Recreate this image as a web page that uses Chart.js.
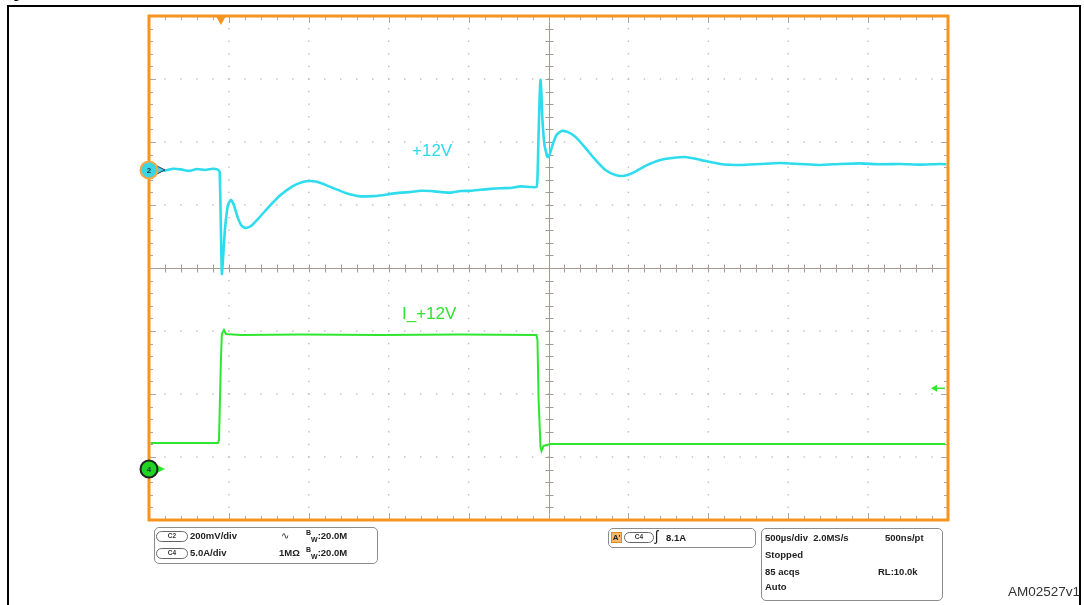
<!DOCTYPE html>
<html>
<head>
<meta charset="utf-8">
<script src="https://cdn.jsdelivr.net/npm/chart.js@4.4.1/dist/chart.umd.min.js"></script>
<style>
  html, body { margin: 0; padding: 0; background: #fff; overflow: hidden; }
  #wrap { position: absolute; left: 0; top: 0; width: 1084px; height: 605px; overflow: hidden; }
  #frame { position: absolute; left: 7px; top: 5px; width: 1070px; height: 700px; border: 2px solid #000; }
  .txt { position: absolute; font-family: "Liberation Sans", Arial, sans-serif; white-space: nowrap; }
  .lbl { font-size: 17px; line-height: 17px; }
  .box { position: absolute; border: 1.5px solid #8c8c8c; border-radius: 5px; box-sizing: border-box; }
  .info { font-size: 9.5px; line-height: 11px; font-weight: bold; color: #222; }
  .pill { position: absolute; border: 1px solid #666; border-radius: 6px; box-sizing: border-box;
          font-family: "Liberation Sans", Arial, sans-serif; font-size: 6.5px; line-height: 8px;
          text-align: center; color: #333; font-weight: bold; }
  sup, sub { font-size: 7px; line-height: 0; }
  #chartBox { position: absolute; left: 0; top: 0; width: 1084px; height: 605px; }
</style>
</head>
<body>
<div id="wrap">
  <div id="chartBox"><canvas id="scope"></canvas></div>
  <div id="frame"></div>
  <div class="txt" style="left:1px; top:-13px; font-size:13px; line-height:13px; font-weight:bold; color:#000;">Figure</div>

  <div class="txt lbl" style="left:412px; top:142px; color:#2fd8ea;">+12V</div>
  <div class="txt lbl" style="left:402px; top:305px; color:#33e033;">I_+12V</div>

  <!-- channel settings -->
  <div class="box" style="left:154px; top:527px; width:224px; height:37px;"></div>
  <div class="pill" style="left:156px; top:531px; width:32px; height:11px;">C2</div>
  <div class="txt info" style="left:190px; top:530px;">200mV/div</div>
  <div class="txt info" style="left:281px; top:530px; font-weight:normal;">∿</div>
  <div class="txt info" style="left:306px; top:530px;"><sup>B</sup><sub>W</sub>:20.0M</div>
  <div class="pill" style="left:156px; top:548px; width:32px; height:11px;">C4</div>
  <div class="txt info" style="left:190px; top:547px;">5.0A/div</div>
  <div class="txt info" style="left:279px; top:547px;">1MΩ</div>
  <div class="txt info" style="left:306px; top:547px;"><sup>B</sup><sub>W</sub>:20.0M</div>

  <!-- trigger settings -->
  <div class="box" style="left:608px; top:528px; width:148px; height:20px;"></div>
  <div class="txt info" style="left:611px; top:532px; width:11px; height:11px; background:#f7b86a; border:1px solid #e08a20; box-sizing:border-box; font-size:8px; line-height:9px; text-align:center;">A'</div>
  <div class="pill" style="left:624px; top:532px; width:30px; height:11px;">C4</div>
  <div class="txt info" style="left:655px; top:528px; font-weight:normal; font-size:14px; line-height:16px;">ʃ</div>
  <div class="txt info" style="left:666px; top:532px;">8.1A</div>

  <!-- acquisition settings -->
  <div class="box" style="left:761px; top:528px; width:182px; height:73px;"></div>
  <div class="txt info" style="left:765px; top:532px;">500µs/div&nbsp;&nbsp;2.0MS/s</div>
  <div class="txt info" style="left:885px; top:532px;">500ns/pt</div>
  <div class="txt info" style="left:765px; top:549px;">Stopped</div>
  <div class="txt info" style="left:765px; top:566px;">85 acqs</div>
  <div class="txt info" style="left:878px; top:566px;">RL:10.0k</div>
  <div class="txt info" style="left:765px; top:581px;">Auto</div>

  <div class="txt" style="left:1008px; top:584px; font-size:13.5px; line-height:15px; color:#333;">AM02527v1</div>
</div>

<script>
// Channel 2: +12V rail, AC coupled, deviation in mV versus time in µs (trigger at t = 0)
const ch2TimeUs = [-440, -400, -350, -300, -250, -200, -150, -100, -50, -20, -8,
  0, 6, 12, 25, 44, 62, 81, 106, 131, 156, 188, 238, 300, 375, 450, 512, 562, 625,
  700, 781, 862, 950, 1010, 1062, 1125, 1187, 1250, 1312, 1375, 1437, 1500, 1562,
  1625, 1687, 1750, 1812, 1875, 1937, 1975, 1981, 1987, 1994, 2000, 2006, 2012,
  2025, 2044, 2056, 2075, 2100, 2131, 2169, 2219, 2281, 2344, 2406, 2469, 2519,
  2575, 2656, 2750, 2825, 2906, 3000, 3125, 3250, 3375, 3500, 3625, 3750, 3875,
  4000, 4125, 4250, 4375, 4500, 4540];
const ch2ValueMv = [0, 3, -2, 4, 2, -3, 3, 0, 4, 1, -6,
  -190, -330, -292, -190, -111, -95, -111, -152, -178, -184, -178, -152, -117, -79, -51, -38, -35, -41,
  -57, -73, -83, -83, -80, -76, -72, -70, -66, -67, -70, -72, -67, -66,
  -63, -60, -58, -57, -52, -54, -54, -25, 95, 222, 286, 238, 159,
  79, 41, 48, 79, 111, 124, 121, 105, 70, 32, 0, -16, -19,
  -10, 13, 32, 38, 41, 32, 19, 16, 19, 22, 19, 16, 19,
  21, 18, 19, 17, 19, 18];

// Channel 4: +12V load current in A
const ch4TimeUs = [-440, -300, -19, -12, 0, 6, 19, 31, 125, 500, 1000, 1500, 1975,
  1981, 1988, 2000, 2006, 2019, 2062, 3000, 4000, 4531];
const ch4ValueA = [2.06, 2.06, 2.06, 2.3, 8.65, 10.71, 11.03, 10.71, 10.63, 10.67, 10.63, 10.67, 10.63,
  10.24, 5.48, 1.75, 1.43, 1.83, 1.98, 1.98, 1.98, 1.98];

// Scope settings
const timePerDivUs = 500;
const timeStartUs = -450;
const ch2VoltsPerDivMv = 200, ch2PositionDiv = 1.556;
const ch4AmpsPerDiv = 5, ch4PositionDiv = -3.19;
const ch4LevelArrowA = 6.4;

const CYAN = '#2fdcee';
const GREEN = '#2ee62e';
const ORANGE = '#f7941e';

function pts(xs, ys) { return xs.map((x, i) => ({ x, y: ys[i] })); }

const graticule = {
  id: 'graticule',
  beforeDatasetsDraw(chart) {
    const { ctx, chartArea: a, scales } = chart;
    const xs = scales.x;
    const xAt = d => xs.getPixelForValue(xs.min + d * timePerDivUs);
    const divH = (a.bottom - a.top) / 8;
    const yAt = d => a.top + d * divH;
    ctx.save();
    // dotted division lines
    ctx.fillStyle = '#bcbcbc';
    for (let i = 1; i < 10; i++) {
      if (i === 5) continue;
      const px = xAt(i);
      for (let j = 1; j < 40; j++) ctx.fillRect(px - 0.7, yAt(j / 5) - 0.7, 1.4, 1.4);
    }
    for (let j = 1; j < 8; j++) {
      if (j === 4) continue;
      const py = yAt(j);
      for (let i = 1; i < 50; i++) ctx.fillRect(xAt(i / 5) - 0.7, py - 0.7, 1.4, 1.4);
    }
    // centre cross with minor ticks
    ctx.strokeStyle = '#a59b8e';
    ctx.lineWidth = 1;
    const cx = Math.round(xAt(5)) + 0.5, cy = Math.round(yAt(4)) + 0.5;
    ctx.beginPath();
    ctx.moveTo(a.left, cy); ctx.lineTo(a.right, cy);
    ctx.moveTo(cx, a.top); ctx.lineTo(cx, a.bottom);
    for (let i = 1; i < 50; i++) { const px = Math.round(xAt(i / 5)) + 0.5; ctx.moveTo(px, cy - 4); ctx.lineTo(px, cy + 4); }
    for (let j = 1; j < 40; j++) { const py = Math.round(yAt(j / 5)) + 0.5; ctx.moveTo(cx - 4, py); ctx.lineTo(cx + 4, py); }
    ctx.stroke();
    // ticks along the edges
    ctx.strokeStyle = '#a8a8a8';
    ctx.beginPath();
    for (let i = 1; i < 50; i++) {
      const px = Math.round(xAt(i / 5)) + 0.5, len = i % 5 === 0 ? 7 : 4;
      ctx.moveTo(px, a.top); ctx.lineTo(px, a.top + len);
      ctx.moveTo(px, a.bottom); ctx.lineTo(px, a.bottom - len);
    }
    for (let j = 1; j < 40; j++) {
      const py = Math.round(yAt(j / 5)) + 0.5, len = j % 5 === 0 ? 7 : 4;
      ctx.moveTo(a.left, py); ctx.lineTo(a.left + len, py);
      ctx.moveTo(a.right, py); ctx.lineTo(a.right - len, py);
    }
    ctx.stroke();
    ctx.restore();
  },
  afterDraw(chart) {
    const { ctx, chartArea: a, scales } = chart;
    ctx.save();
    // orange graticule border
    ctx.strokeStyle = ORANGE;
    ctx.lineWidth = 3;
    ctx.strokeRect(a.left, a.top, a.right - a.left, a.bottom - a.top);
    // trigger position marker
    const tx = scales.x.getPixelForValue(0);
    ctx.fillStyle = ORANGE;
    ctx.beginPath();
    ctx.moveTo(tx - 4.5, a.top + 1); ctx.lineTo(tx + 4.5, a.top + 1); ctx.lineTo(tx, a.top + 9); ctx.closePath();
    ctx.fill();

    // channel ground markers
    const marker = (y, fill, ring, label, arrowFill, arrowStroke) => {
      const x = a.left;
      ctx.beginPath();
      ctx.moveTo(x + 8, y - 4); ctx.lineTo(x + 16, y); ctx.lineTo(x + 8, y + 4); ctx.closePath();
      ctx.fillStyle = arrowFill; ctx.fill();
      if (arrowStroke) { ctx.strokeStyle = arrowStroke; ctx.lineWidth = 1; ctx.stroke(); }
      ctx.beginPath(); ctx.arc(x, y, 8.5, 0, Math.PI * 2);
      ctx.fillStyle = fill; ctx.fill();
      ctx.lineWidth = 2; ctx.strokeStyle = ring; ctx.stroke();
      ctx.fillStyle = '#1a3a3a';
      ctx.font = 'bold 8px "Liberation Sans", Arial, sans-serif';
      ctx.textAlign = 'center'; ctx.textBaseline = 'middle';
      ctx.fillText(label, x, y + 0.5);
    };
    marker(scales.y2.getPixelForValue(0), '#3ad6e6', '#f6a640', '2', '#3ad6e6', '#335');
    marker(scales.y4.getPixelForValue(0), '#22d422', '#222', '4', GREEN, null);

    // channel 4 level arrow on the right edge
    const ly = scales.y4.getPixelForValue(ch4LevelArrowA);
    ctx.strokeStyle = GREEN; ctx.fillStyle = GREEN; ctx.lineWidth = 1.5;
    ctx.beginPath(); ctx.moveTo(a.right - 3, ly); ctx.lineTo(a.right - 13, ly); ctx.stroke();
    ctx.beginPath(); ctx.moveTo(a.right - 17, ly); ctx.lineTo(a.right - 11, ly - 3.5); ctx.lineTo(a.right - 11, ly + 3.5); ctx.closePath(); ctx.fill();
    ctx.restore();
  }
};

new Chart(document.getElementById('scope'), {
  type: 'line',
  data: {
    datasets: [
      { data: pts(ch2TimeUs, ch2ValueMv), yAxisID: 'y2', borderColor: CYAN, borderWidth: 2.6, pointRadius: 0, tension: 0.18 },
      { data: pts(ch4TimeUs, ch4ValueA), yAxisID: 'y4', borderColor: GREEN, borderWidth: 2, pointRadius: 0, tension: 0 }
    ]
  },
  options: {
    responsive: true,
    maintainAspectRatio: false,
    animation: false,
    parsing: false,
    layout: { padding: { left: 149, right: 136, top: 16, bottom: 85 } },
    plugins: { legend: { display: false }, tooltip: { enabled: false } },
    scales: {
      x: { type: 'linear', display: false, min: timeStartUs, max: timeStartUs + 10 * timePerDivUs },
      y2: { type: 'linear', display: false,
            min: (-4 - ch2PositionDiv) * ch2VoltsPerDivMv, max: (4 - ch2PositionDiv) * ch2VoltsPerDivMv },
      y4: { type: 'linear', display: false,
            min: (-4 - ch4PositionDiv) * ch4AmpsPerDiv, max: (4 - ch4PositionDiv) * ch4AmpsPerDiv }
    }
  },
  plugins: [graticule]
});
</script>
</body>
</html>
